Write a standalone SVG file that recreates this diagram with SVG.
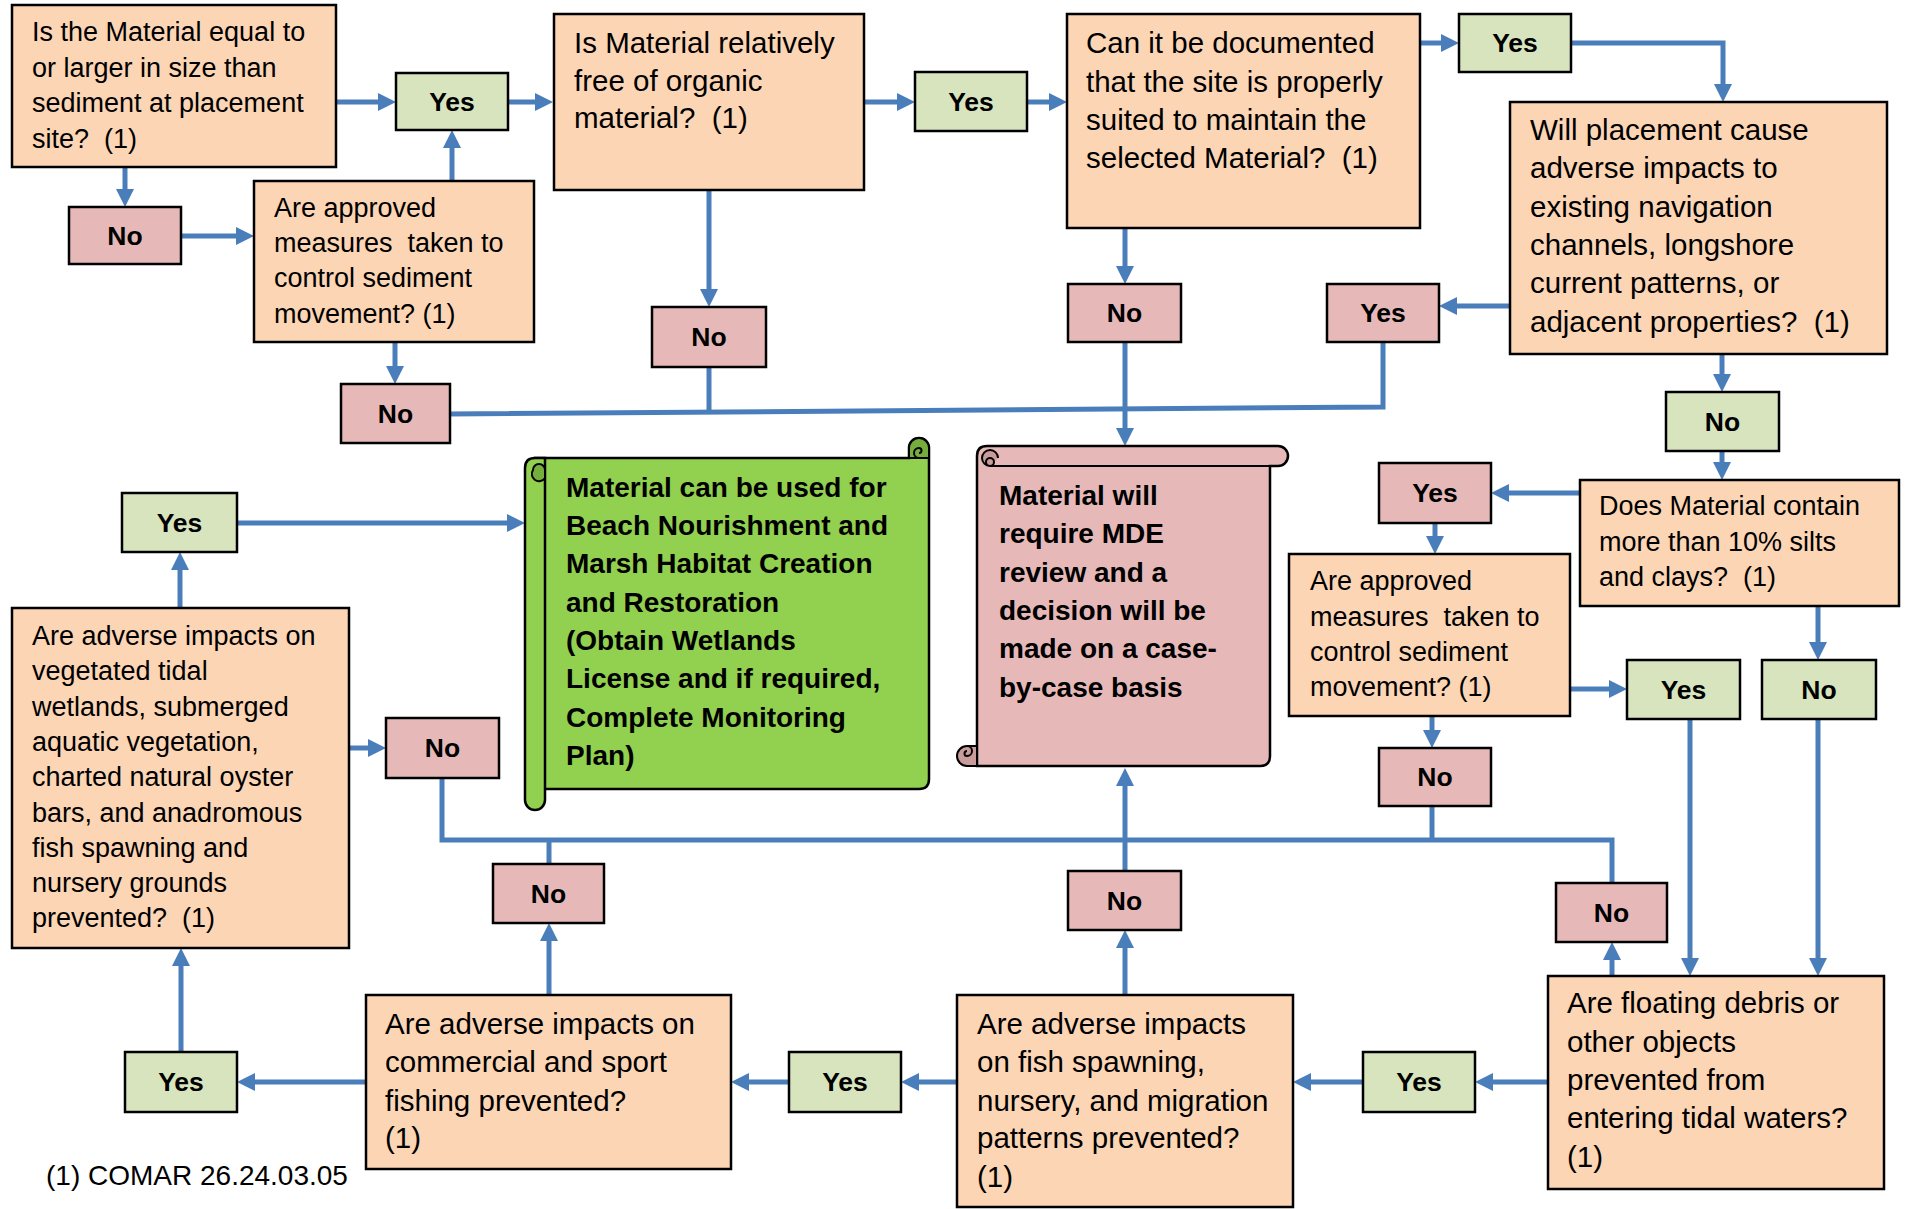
<svg xmlns="http://www.w3.org/2000/svg" width="1907" height="1209" viewBox="0 0 1907 1209">
<defs>
<style>
.q{fill:#FCD5B5;stroke:#000;stroke-width:2.5}
.g{fill:#D7E4BD;stroke:#000;stroke-width:2.5}
.r{fill:#E6B9B8;stroke:#000;stroke-width:2.5}
text{white-space:pre}
.t{font-family:"Liberation Sans",Arial,sans-serif;font-size:27px;fill:#000}
.tl{font-family:"Liberation Sans",Arial,sans-serif;font-size:29.5px;fill:#000}
.lb{font-family:"Liberation Sans",Arial,sans-serif;font-size:26.5px;font-weight:bold;fill:#000;text-anchor:middle}
.sb{font-family:"Liberation Sans",Arial,sans-serif;font-size:28px;font-weight:bold;fill:#000}
.c{fill:none;stroke:#4A7EBB;stroke-width:5}
.a{marker-end:url(#ah)}
.sc{fill:none;stroke:#000;stroke-width:2}
.rs{fill:#E6B9B8;stroke:#000;stroke-width:2.5}
.rd{fill:#C99C9B;stroke:#000;stroke-width:2}
.gs{fill:#92D050;stroke:#000;stroke-width:2.5}
.gd{fill:#76AE3E;stroke:#000;stroke-width:2}
</style>
<marker id="ah" viewBox="0 0 18 18" refX="8" refY="9" markerWidth="18" markerHeight="18" markerUnits="userSpaceOnUse" orient="auto">
<path d="M0,0 L18,9 L0,18 Z" fill="#4A7EBB"/>
</marker>
</defs>
<rect width="1907" height="1209" fill="#fff"/>

<g id="connectors">
<path class="c a" d="M336,102 H386"/>
<path class="c a" d="M508,102 H543"/>
<path class="c a" d="M125,167 V197"/>
<path class="c a" d="M181,236 H244"/>
<path class="c a" d="M452,181 V140"/>
<path class="c a" d="M395,342 V374"/>
<path class="c a" d="M864,102 H905"/>
<path class="c a" d="M1027,102 H1057"/>
<path class="c a" d="M709,190 V297"/>
<path class="c a" d="M1125,228 V274"/>
<path class="c a" d="M1420,43 H1449"/>
<path class="c a" d="M1571,43 H1723 V92"/>
<path class="c a" d="M1510,306 H1449"/>
<path class="c a" d="M1722,354 V382"/>
<path class="c" d="M450,414 L1383,407 V342"/>
<path class="c" d="M709,367 V412"/>
<path class="c a" d="M1125,342 V436"/>
<path class="c a" d="M1722,451 V470"/>
<path class="c a" d="M1580,493 H1501"/>
<path class="c a" d="M1435,523 V544"/>
<path class="c a" d="M1570,689 H1617"/>
<path class="c a" d="M1818,606 V650"/>
<path class="c a" d="M1432,716 V738"/>
<path class="c a" d="M1690,719 V966"/>
<path class="c a" d="M1818,719 V966"/>
<path class="c a" d="M237,523 H515"/>
<path class="c a" d="M180,608 V562"/>
<path class="c a" d="M349,748 H376"/>
<path class="c" d="M442,778 V840 H1612 V883"/>
<path class="c" d="M549,864 V840"/>
<path class="c" d="M1432,806 V840"/>
<path class="c a" d="M1125,871 V778"/>
<path class="c a" d="M1612,976 V952"/>
<path class="c a" d="M1548,1082 H1485"/>
<path class="c a" d="M1363,1082 H1303"/>
<path class="c a" d="M1125,995 V940"/>
<path class="c a" d="M957,1082 H911"/>
<path class="c a" d="M789,1082 H741"/>
<path class="c a" d="M549,995 V933"/>
<path class="c a" d="M366,1082 H247"/>
<path class="c a" d="M181,1052 V958"/>
</g>

<g id="q1"><rect class="q" x="12" y="5" width="324" height="162"/>
<text class="t" x="32" y="41">Is the Material equal to</text>
<text class="t" x="32" y="77">or larger in size than</text>
<text class="t" x="32" y="112">sediment at placement</text>
<text class="t" x="32" y="148">site?  (1)</text></g>

<g id="yes1"><rect class="g" x="396" y="73" width="112" height="57"/><text class="lb" x="452" y="111">Yes</text></g>
<g id="no1"><rect class="r" x="69" y="207" width="112" height="57"/><text class="lb" x="125" y="245">No</text></g>

<g id="q5"><rect class="q" x="254" y="181" width="280" height="161"/>
<text class="t" x="274" y="217">Are approved</text>
<text class="t" x="274" y="252">measures  taken to</text>
<text class="t" x="274" y="287">control sediment</text>
<text class="t" x="274" y="323">movement? (1)</text></g>

<g id="no2"><rect class="r" x="341" y="384" width="109" height="59"/><text class="lb" x="395.5" y="423">No</text></g>

<g id="q2"><rect class="q" x="554" y="14" width="310" height="176"/>
<text class="tl" x="574" y="53">Is Material relatively</text>
<text class="tl" x="574" y="91">free of organic</text>
<text class="tl" x="574" y="128">material?  (1)</text></g>

<g id="yes2"><rect class="g" x="915" y="72" width="112" height="59"/><text class="lb" x="971" y="111">Yes</text></g>
<g id="no3"><rect class="r" x="652" y="307" width="114" height="60"/><text class="lb" x="709" y="346">No</text></g>

<g id="q3"><rect class="q" x="1067" y="14" width="353" height="214"/>
<text class="tl" x="1086" y="53">Can it be documented</text>
<text class="tl" x="1086" y="92">that the site is properly</text>
<text class="tl" x="1086" y="130">suited to maintain the</text>
<text class="tl" x="1086" y="168">selected Material?  (1)</text></g>

<g id="yes3"><rect class="g" x="1459" y="14" width="112" height="58"/><text class="lb" x="1515" y="52">Yes</text></g>
<g id="no4"><rect class="r" x="1068" y="284" width="113" height="58"/><text class="lb" x="1124.5" y="322">No</text></g>
<g id="yes4"><rect class="r" x="1327" y="284" width="112" height="58"/><text class="lb" x="1383" y="322">Yes</text></g>

<g id="q4"><rect class="q" x="1510" y="102" width="377" height="252"/>
<text class="tl" x="1530" y="140">Will placement cause</text>
<text class="tl" x="1530" y="178">adverse impacts to</text>
<text class="tl" x="1530" y="217">existing navigation</text>
<text class="tl" x="1530" y="255">channels, longshore</text>
<text class="tl" x="1530" y="293">current patterns, or</text>
<text class="tl" x="1530" y="332">adjacent properties?  (1)</text></g>

<g id="no5"><rect class="g" x="1666" y="392" width="113" height="59"/><text class="lb" x="1722.5" y="431">No</text></g>

<g id="q6"><rect class="q" x="1580" y="480" width="319" height="126"/>
<text class="t" x="1599" y="515">Does Material contain</text>
<text class="t" x="1599" y="551">more than 10% silts</text>
<text class="t" x="1599" y="586">and clays?  (1)</text></g>

<g id="yes5"><rect class="r" x="1379" y="463" width="112" height="60"/><text class="lb" x="1435" y="502">Yes</text></g>

<g id="q7"><rect class="q" x="1289" y="554" width="281" height="162"/>
<text class="t" x="1310" y="590">Are approved</text>
<text class="t" x="1310" y="626">measures  taken to</text>
<text class="t" x="1310" y="661">control sediment</text>
<text class="t" x="1310" y="696">movement? (1)</text></g>

<g id="yes6"><rect class="g" x="1627" y="660" width="113" height="59"/><text class="lb" x="1683.5" y="699">Yes</text></g>
<g id="no6"><rect class="g" x="1762" y="660" width="114" height="59"/><text class="lb" x="1819" y="699">No</text></g>
<g id="no7"><rect class="r" x="1379" y="748" width="112" height="58"/><text class="lb" x="1435" y="786">No</text></g>

<g id="review">
<path class="rs" d="M977,456 Q977,446 987,446 H1278 A10,10 0 0 1 1278,466 H1270 V756 Q1270,766 1260,766 H977 Z"/>
<path class="rd" d="M977,766 H967 A10,10 0 0 1 967,746 H977"/>
<path class="sc" d="M967,746 A5,5 0 0 1 967,756 A2.5,2.5 0 0 1 967,751"/>
<path class="sc" d="M977,746 V766"/>
<path class="sc" d="M990,466 H1270"/>
<path class="rd" d="M990,466 A8,8 0 0 1 990,450 A8,8 0 0 1 998,458 M990,466 A4,4 0 0 1 990,458 A4,4 0 0 1 994,462 A4,4 0 0 1 990,466"/>
<text class="sb" x="999" y="505">Material will</text>
<text class="sb" x="999" y="543">require MDE</text>
<text class="sb" x="999" y="582">review and a</text>
<text class="sb" x="999" y="620">decision will be</text>
<text class="sb" x="999" y="658">made on a case-</text>
<text class="sb" x="999" y="697">by-case basis</text>
</g>

<g id="approved">
<path class="gs" d="M535,458 H909 V448 A10,10 0 0 1 929,448 V779 Q929,789 919,789 H535 Z"/>
<path class="gd" d="M909,458 V448 A10,10 0 0 1 929,448 V458 Z"/>
<path class="sc" d="M919,458 A5,5 0 0 1 919,448 A2.5,2.5 0 0 1 919,453"/>
<path class="gs" d="M525,800 V468 Q525,458 535,458 H545 V800 A10,10 0 0 1 525,800 Z"/>
<path class="gd" d="M533,470 A6,6 0 0 1 545,470 V478 A6,6 0 0 1 533,470 Z"/>
<path class="sc" d="M545,458 V800"/>
<text class="sb" x="566" y="497">Material can be used for</text>
<text class="sb" x="566" y="535">Beach Nourishment and</text>
<text class="sb" x="566" y="573">Marsh Habitat Creation</text>
<text class="sb" x="566" y="612">and Restoration</text>
<text class="sb" x="566" y="650">(Obtain Wetlands</text>
<text class="sb" x="566" y="688">License and if required,</text>
<text class="sb" x="566" y="727">Complete Monitoring</text>
<text class="sb" x="566" y="765">Plan)</text>
</g>

<g id="yes7"><rect class="g" x="122" y="493" width="115" height="59"/><text class="lb" x="179.5" y="532">Yes</text></g>

<g id="q8"><rect class="q" x="12" y="608" width="337" height="340"/>
<text class="t" x="32" y="645">Are adverse impacts on</text>
<text class="t" x="32" y="680">vegetated tidal</text>
<text class="t" x="32" y="716">wetlands, submerged</text>
<text class="t" x="32" y="751">aquatic vegetation,</text>
<text class="t" x="32" y="786">charted natural oyster</text>
<text class="t" x="32" y="822">bars, and anadromous</text>
<text class="t" x="32" y="857">fish spawning and</text>
<text class="t" x="32" y="892">nursery grounds</text>
<text class="t" x="32" y="927">prevented?  (1)</text></g>

<g id="no8"><rect class="r" x="386" y="718" width="113" height="60"/><text class="lb" x="442.5" y="757">No</text></g>
<g id="no9"><rect class="r" x="493" y="864" width="111" height="59"/><text class="lb" x="548.5" y="903">No</text></g>
<g id="no10"><rect class="r" x="1556" y="883" width="111" height="59"/><text class="lb" x="1611.5" y="922">No</text></g>
<g id="no11"><rect class="r" x="1068" y="871" width="113" height="59"/><text class="lb" x="1124.5" y="910">No</text></g>

<g id="q12"><rect class="q" x="1548" y="976" width="336" height="213"/>
<text class="tl" x="1567" y="1013">Are floating debris or</text>
<text class="tl" x="1567" y="1052">other objects</text>
<text class="tl" x="1567" y="1090">prevented from</text>
<text class="tl" x="1567" y="1128">entering tidal waters?</text>
<text class="tl" x="1567" y="1167">(1)</text></g>

<g id="yes8"><rect class="g" x="1363" y="1052" width="112" height="60"/><text class="lb" x="1419" y="1091">Yes</text></g>

<g id="q11"><rect class="q" x="957" y="995" width="336" height="212"/>
<text class="tl" x="977" y="1034">Are adverse impacts</text>
<text class="tl" x="977" y="1072">on fish spawning,</text>
<text class="tl" x="977" y="1111">nursery, and migration</text>
<text class="tl" x="977" y="1148">patterns prevented?</text>
<text class="tl" x="977" y="1187">(1)</text></g>

<g id="yes9"><rect class="g" x="789" y="1052" width="112" height="60"/><text class="lb" x="845" y="1091">Yes</text></g>

<g id="q10"><rect class="q" x="366" y="995" width="365" height="174"/>
<text class="tl" x="385" y="1034">Are adverse impacts on</text>
<text class="tl" x="385" y="1072">commercial and sport</text>
<text class="tl" x="385" y="1111">fishing prevented?</text>
<text class="tl" x="385" y="1148">(1)</text></g>

<g id="yes10"><rect class="g" x="125" y="1052" width="112" height="60"/><text class="lb" x="181" y="1091">Yes</text></g>

<g id="footnote"><text class="t" style="font-size:28px" x="46" y="1185">(1) COMAR 26.24.03.05</text></g>
</svg>
